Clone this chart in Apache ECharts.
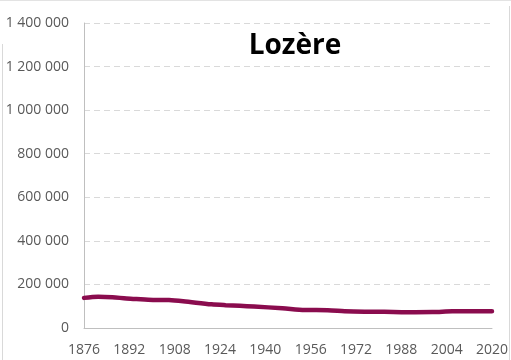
<!DOCTYPE html>
<html>
<head>
<meta charset="utf-8">
<script src="https://cdn.jsdelivr.net/npm/echarts@6/dist/echarts.min.js"></script>
<style>
  html, body { margin: 0; padding: 0; background: #fff; }
  #chart { width: 511px; height: 360px; }
</style>
</head>
<body>
<div id="chart"></div>
<script>
// Census population of Lozère, 1876–2020
const years = [1876, 1881, 1886, 1891, 1896, 1901, 1906, 1911, 1921, 1926, 1931, 1936,
               1946, 1954, 1962, 1968, 1975, 1982, 1990, 1999, 2006, 2011, 2016, 2020];
const population = [138319, 143565, 141264, 135527, 132151, 128866, 128016, 122738,
                    108822, 104738, 101849, 98480, 90523, 82391, 81868, 77258, 74825,
                    74294, 72825, 73509, 76800, 77156, 76422, 76604];
const yearTicks = [1876, 1892, 1908, 1924, 1940, 1956, 1972, 1988, 2004, 2020];
const titleText = 'Lozère';

const fmt = v => String(v).replace(/\B(?=(\d{3})+(?!\d))/g, ' ');

const chart = echarts.init(document.getElementById('chart'), null, { renderer: 'canvas' });
const labelFont = { color: '#595959', fontSize: 14, fontFamily: 'Open Sans' };

chart.setOption({
  animation: false,
  backgroundColor: '#ffffff',
  title: {
    text: titleText,
    left: 290, top: 27, textAlign: 'center',
    textStyle: { fontFamily: 'Open Sans', fontWeight: 'bold', fontSize: 28, color: '#000' }
  },
  grid: { left: 84, right: 14, top: 23, bottom: 32, containLabel: false },
  xAxis: {
    type: 'value', min: 1876, max: 2020,
    axisLine: { show: true, lineStyle: { color: '#bfbfbf', width: 1 } },
    axisTick: { show: false },
    splitLine: { show: false },
    axisLabel: Object.assign({ customValues: yearTicks, margin: 15, formatter: v => String(v) }, labelFont)
  },
  yAxis: {
    type: 'value', min: 0, max: 1400000, interval: 200000,
    axisLine: { show: true, lineStyle: { color: '#bfbfbf', width: 1 } },
    axisTick: { show: false },
    splitLine: { show: true, lineStyle: { color: '#d9d9d9', type: [6, 4], width: 1 } },
    axisLabel: Object.assign({ margin: 15, formatter: fmt }, labelFont)
  },
  series: [{
    type: 'line',
    data: years.map((y, i) => [y, population[i]]),
    smooth: 0.3,
    showSymbol: false,
    lineStyle: { color: '#8a0c4e', width: 4.5, cap: 'round' }
  }],
  graphic: [
    { type: 'line', z: 100, shape: { x1: 0, y1: 0.5, x2: 511, y2: 0.5 }, style: { stroke: '#e3e3e3', lineWidth: 1 } },
    { type: 'line', z: 100, shape: { x1: 2.5, y1: 44, x2: 2.5, y2: 360 }, style: { stroke: '#d9d9d9', lineWidth: 1 } },
    { type: 'line', z: 100, shape: { x1: 509.5, y1: 6, x2: 509.5, y2: 360 }, style: { stroke: '#d9d9d9', lineWidth: 1 } }
  ]
});
</script>
</body>
</html>
